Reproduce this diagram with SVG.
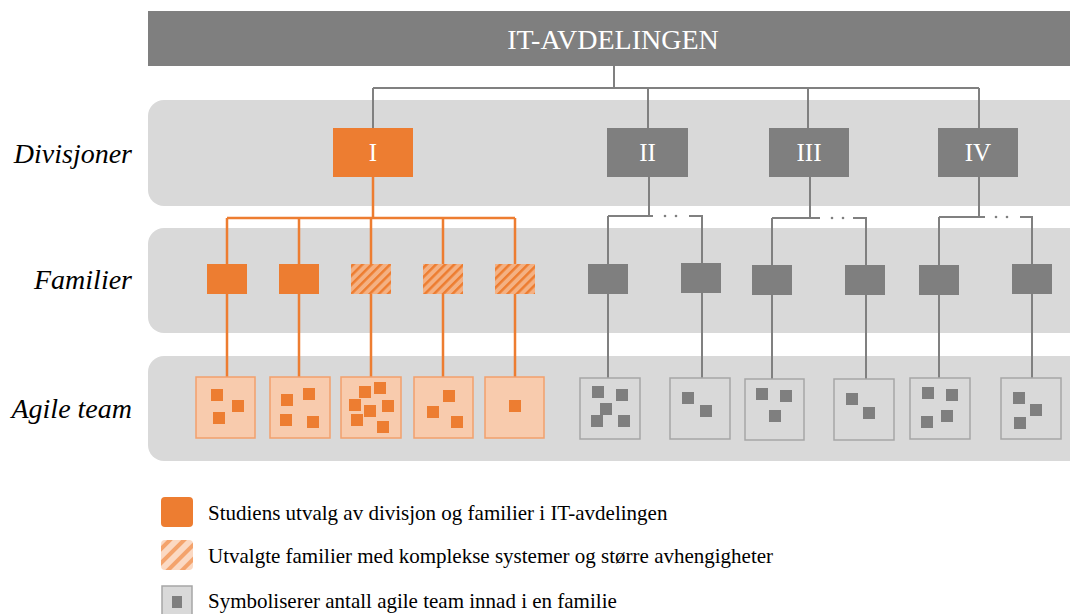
<svg xmlns="http://www.w3.org/2000/svg" width="1070" height="614" viewBox="0 0 1070 614">
<style>
.band{fill:#d9d9d9}
.lbl{font-family:"Liberation Serif",serif;font-style:italic;font-size:28px;fill:#000;text-anchor:end}
.num{font-family:"Liberation Serif",serif;font-size:25px;fill:#fff;text-anchor:middle}
.og{fill:#ed7d31}
.gy{fill:#7f7f7f}
.hatch{fill:url(#h)}
.ot{fill:#f8cbad;stroke:#f2a06c;stroke-width:1.5}
.gt{fill:#d9d9d9;stroke:#a6a6a6;stroke-width:1.5}
.ol{stroke:#ed7d31;stroke-width:2.5;fill:none}
.gl{stroke:#808080;stroke-width:2;fill:none}
.leg{font-family:"Liberation Serif",serif;font-size:21px;fill:#000}
</style>
<defs>
<pattern id="h" width="6.5" height="6.5" patternUnits="userSpaceOnUse" patternTransform="rotate(45)">
<rect width="6.5" height="6.5" fill="#f4b183"/>
<rect width="2.5" height="6.5" fill="#ed7d31"/>
</pattern>
<pattern id="h2" width="10" height="10" patternUnits="userSpaceOnUse" patternTransform="rotate(45)">
<rect width="10" height="10" fill="#fbd9c3"/>
<rect width="4" height="10" fill="#f4a36c"/>
</pattern>
</defs>
<rect x="148" y="11" width="940" height="55" fill="#7f7f7f"/>
<text x="613" y="49" class="num" style="font-size:28px">IT-AVDELINGEN</text>
<rect class="band" x="148" y="100" width="940" height="106" rx="16"/>
<rect class="band" x="148" y="228" width="940" height="105" rx="16"/>
<rect class="band" x="148" y="356" width="940" height="105" rx="16"/>
<text class="lbl" x="132" y="163">Divisjoner</text>
<text class="lbl" x="132" y="289">Familier</text>
<text class="lbl" x="132" y="418">Agile team</text>
<g id="connectors">
<path class="gl" d="M614 66V88M373 88H979M373 88V128M648 88V128M808 88V128M979 88V128"/>
<path class="ol" d="M373 177V218M227 218H515M227 218V377M299 218V377M371 218V377M443 218V377M515 218V377"/>
<path class="gl" d="M649 177V216M608 216H653M689 216H702V378M608 216V378"/>
<path class="gl" d="M810 177V218M772 218H820M853 218H866V379M772 218V379"/>
<path class="gl" d="M979 177V217M939 217H985M1020 217H1032V378M939 217V378"/>
<g class="gy"><circle cx="665" cy="216" r="1.3"/><circle cx="676" cy="216" r="1.3"/><circle cx="832" cy="218" r="1.3"/><circle cx="843" cy="218" r="1.3"/><circle cx="996" cy="217" r="1.3"/><circle cx="1007" cy="217" r="1.3"/></g>
</g>
<g id="div-I"><rect class="og" x="333" y="128" width="80" height="49"/><text class="num" x="373" y="161">I</text></g>
<g id="div-II"><rect class="gy" x="607" y="128" width="81" height="49"/><text class="num" x="647.5" y="161">II</text></g>
<g id="div-III"><rect class="gy" x="769" y="128" width="80" height="49"/><text class="num" x="809" y="161">III</text></g>
<g id="div-IV"><rect class="gy" x="938" y="128" width="80" height="49"/><text class="num" x="978" y="161">IV</text></g>
<g id="fam-1"><rect class="og" x="207" y="264" width="40" height="30"/></g>
<g id="fam-2"><rect class="og" x="279" y="264" width="40" height="30"/></g>
<g id="fam-3"><rect class="hatch" x="351" y="264" width="40" height="30"/></g>
<g id="fam-4"><rect class="hatch" x="423" y="264" width="40" height="30"/></g>
<g id="fam-5"><rect class="hatch" x="495" y="264" width="40" height="30"/></g>
<g id="fam-6"><rect class="gy" x="588" y="264" width="40" height="30"/></g>
<g id="fam-7"><rect class="gy" x="681" y="263" width="40" height="30"/></g>
<g id="fam-8"><rect class="gy" x="752" y="265" width="40" height="30"/></g>
<g id="fam-9"><rect class="gy" x="845" y="265" width="40" height="30"/></g>
<g id="fam-10"><rect class="gy" x="919" y="265" width="40" height="30"/></g>
<g id="fam-11"><rect class="gy" x="1012" y="264" width="40" height="30"/></g>
<g id="team-1"><rect class="ot" x="196" y="377" width="59" height="61"/><g class="og"><rect x="211" y="389" width="12" height="12"/><rect x="232" y="400" width="12" height="12"/><rect x="213" y="412" width="12" height="12"/></g></g>
<g id="team-2"><rect class="ot" x="270" y="377" width="60" height="61"/><g class="og"><rect x="281" y="394" width="12" height="12"/><rect x="303" y="388" width="12" height="12"/><rect x="280" y="414" width="12" height="12"/><rect x="307" y="416" width="12" height="12"/></g></g>
<g id="team-3"><rect class="ot" x="341" y="377" width="60" height="61"/><g class="og"><rect x="359" y="386" width="12" height="12"/><rect x="374" y="382" width="12" height="12"/><rect x="349" y="399" width="12" height="12"/><rect x="364" y="405" width="12" height="12"/><rect x="382" y="400" width="12" height="12"/><rect x="351" y="414" width="12" height="12"/><rect x="377" y="421" width="12" height="12"/></g></g>
<g id="team-4"><rect class="ot" x="414" y="377" width="59" height="61"/><g class="og"><rect x="443" y="390" width="12" height="12"/><rect x="427" y="406" width="12" height="12"/><rect x="451" y="416" width="12" height="12"/></g></g>
<g id="team-5"><rect class="ot" x="485" y="377" width="59" height="61"/><g class="og"><rect x="509" y="400" width="12" height="12"/></g></g>
<g id="team-6"><rect class="gt" x="580" y="378" width="60" height="61"/><g class="gy"><rect x="592" y="386" width="12" height="12"/><rect x="616" y="389" width="12" height="12"/><rect x="600" y="403" width="12" height="12"/><rect x="591" y="415" width="12" height="12"/><rect x="618" y="415" width="12" height="12"/></g></g>
<g id="team-7"><rect class="gt" x="670" y="378" width="60" height="61"/><g class="gy"><rect x="682" y="392" width="12" height="12"/><rect x="700" y="405" width="12" height="12"/></g></g>
<g id="team-8"><rect class="gt" x="745" y="379" width="59" height="61"/><g class="gy"><rect x="756" y="388" width="12" height="12"/><rect x="780" y="390" width="12" height="12"/><rect x="769" y="410" width="12" height="12"/></g></g>
<g id="team-9"><rect class="gt" x="834" y="379" width="60" height="61"/><g class="gy"><rect x="846" y="393" width="12" height="12"/><rect x="863" y="407" width="12" height="12"/></g></g>
<g id="team-10"><rect class="gt" x="910" y="378" width="60" height="61"/><g class="gy"><rect x="922" y="387" width="12" height="12"/><rect x="946" y="389" width="12" height="12"/><rect x="941" y="410" width="12" height="12"/><rect x="921" y="416" width="12" height="12"/></g></g>
<g id="team-11"><rect class="gt" x="1001" y="378" width="60" height="61"/><g class="gy"><rect x="1013" y="392" width="12" height="12"/><rect x="1030" y="404" width="12" height="12"/><rect x="1014" y="417" width="12" height="12"/></g></g>
<g id="legend">
<rect class="og" x="161" y="497" width="32" height="30" rx="4"/>
<text class="leg" x="208" y="520">Studiens utvalg av divisjon og familier i IT-avdelingen</text>
<rect x="161" y="540" width="32" height="30" rx="4" fill="url(#h2)"/>
<text class="leg" x="208" y="563">Utvalgte familier med komplekse systemer og større avhengigheter</text>
<rect x="162" y="586" width="30" height="30" fill="#d9d9d9" stroke="#a6a6a6" stroke-width="1.5"/>
<rect class="gy" x="172" y="596" width="10" height="12"/>
<text class="leg" x="208" y="608">Symboliserer antall agile team innad i en familie</text>
</g>
</svg>
